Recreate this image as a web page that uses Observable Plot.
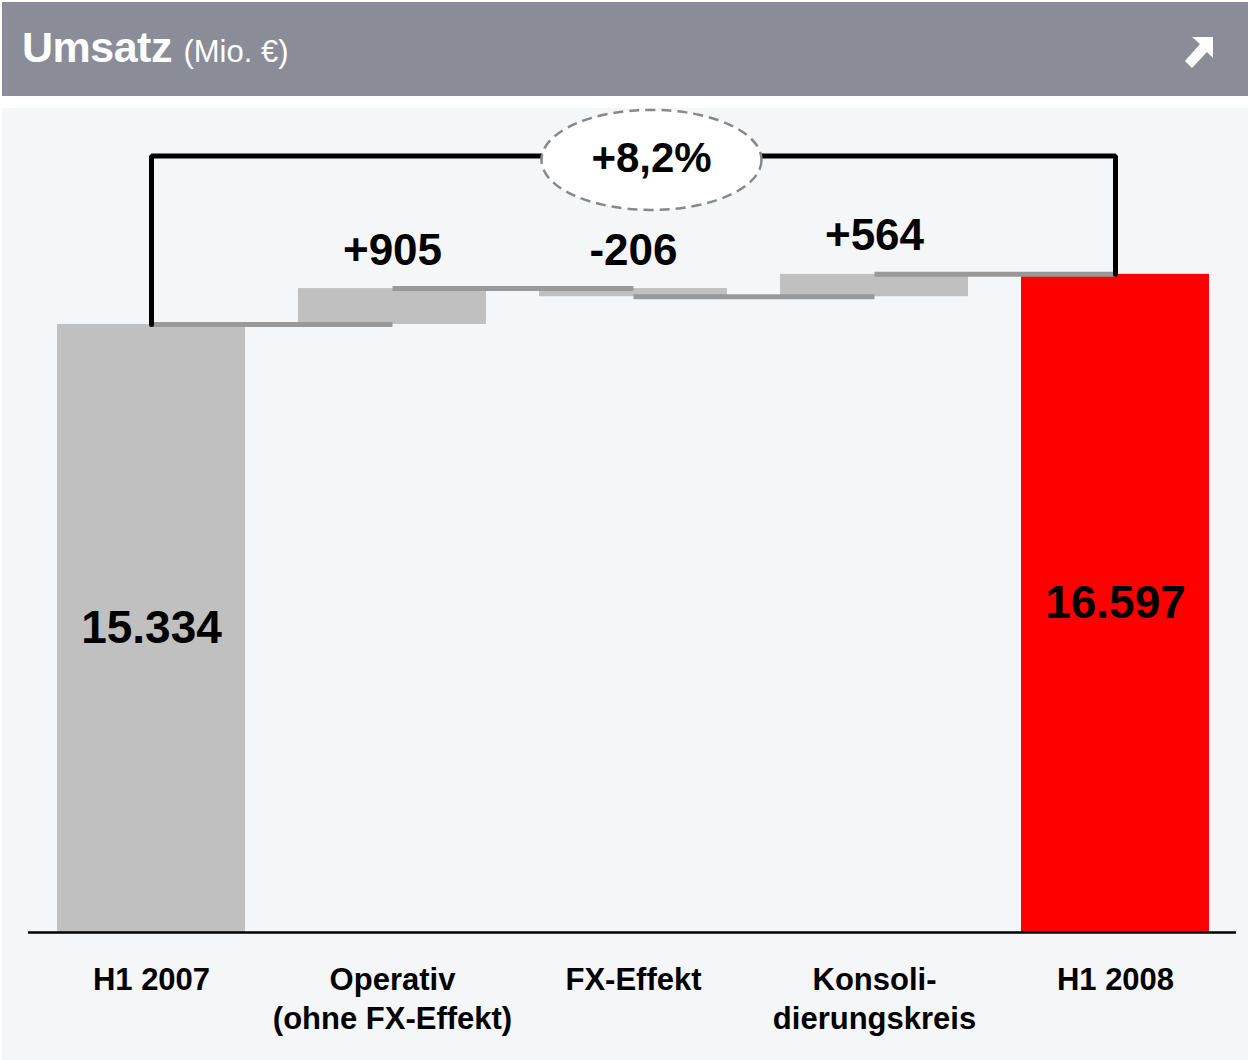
<!DOCTYPE html>
<html>
<head>
<meta charset="utf-8">
<script src="https://cdn.jsdelivr.net/npm/d3@7"></script>
<script src="https://cdn.jsdelivr.net/npm/@observablehq/plot@0.6"></script>
<style>
  body { margin: 0; background: #fff; font-family: "Liberation Sans", Arial, sans-serif; }
  #wrap { width: 1248px; height: 1060px; position: relative; overflow: hidden; }
  #header { position: absolute; left: 2px; top: 2px; width: 1246px; height: 94px; background: #8a8d97; color: #fff; display: flex; align-items: center; }
  #title { margin-left: 20px; margin-top: -4px; font-weight: bold; font-size: 43px; letter-spacing: -0.5px; }
  #title span { font-weight: normal; font-size: 31px; letter-spacing: 0; }
  #arrow { position: absolute; left: 1176px; top: 30px; }
  #panel { position: absolute; left: 2px; top: 108px; width: 1246px; height: 952px; background: #f5f6f8; }
</style>
</head>
<body>
<div id="wrap">
  <div id="header">
    <div id="title">Umsatz <span>(Mio. €)</span></div>
    <svg id="arrow" width="40" height="40" viewBox="0 0 40 40">
      <polygon points="14,5 35,5 35,26 29,20 14,36 7,29 22,12" fill="#fff"/>
    </svg>
  </div>
  <div id="panel"></div>
</div>
<script>
// ---- data ----
const categories = ["H1 2007", "Operativ\n(ohne FX-Effekt)", "FX-Effekt", "Konsoli-\ndierungskreis", "H1 2008"];
const values = [15334, 905, -206, 564, 16597];
const valueLabels = ["15.334", "+905", "-206", "+564", "16.597"];
const kinds = ["total", "delta", "delta", "delta", "final"];
const growthLabel = "+8,2%";

// ---- derived table ----
let run = 0;
const rows = categories.map((cat, i) => {
  let start, end;
  if (kinds[i] === "delta") { start = run; end = run + values[i]; }
  else { start = 0; end = values[i]; }
  run = end;
  return { cat, start, end, kind: kinds[i], label: valueLabels[i],
           top: Math.max(start, end), mid: (start + end) / 2 };
});
const links = rows.slice(0, -1).map((r, i) => ({ x1: r.cat, x2: rows[i + 1].cat, y: r.end }));
const maxTotal = d3.max(rows.filter(r => r.kind !== "delta"), r => r.end);
const bracketLevel = maxTotal * 1.18;
const first = rows[0], last = rows[rows.length - 1];
const bracket = [
  { x: first.cat, y: first.end },
  { x: first.cat, y: bracketLevel },
  { x: last.cat, y: bracketLevel },
  { x: last.cat, y: last.end }
];

const ellipse = {
  draw(ctx) {
    const rx = 110, ry = 50, k = 0.5523;
    ctx.moveTo(rx, 0);
    ctx.bezierCurveTo(rx, ry * k, rx * k, ry, 0, ry);
    ctx.bezierCurveTo(-rx * k, ry, -rx, ry * k, -rx, 0);
    ctx.bezierCurveTo(-rx, -ry * k, -rx * k, -ry, 0, -ry);
    ctx.bezierCurveTo(rx * k, -ry, rx, -ry * k, rx, 0);
    ctx.closePath();
  }
};

const font = "'Liberation Sans', Arial, sans-serif";

const chart = Plot.plot({
  width: 1246,
  height: 952,
  marginTop: 0,
  marginBottom: 128,
  marginLeft: 26,
  marginRight: 12,
  style: { background: "transparent", fontFamily: font, color: "black" },
  x: { domain: categories, range: [54, 1207], paddingInner: 0.22, paddingOuter: 0, axis: null },
  y: { domain: [0, 20780], axis: null },
  color: { type: "identity" },
  marks: [
    Plot.barY(rows, { x: "cat", y1: "start", y2: "end",
      fill: d => d.kind === "final" ? "#ff0000" : "#c0c0c0" }),
    Plot.link(links, { x1: "x1", x2: "x2", y1: "y", y2: "y", stroke: "#999999", strokeWidth: 5 }),
    Plot.line(bracket, { x: "x", y: "y", stroke: "black", strokeWidth: 5, strokeLinejoin: "miter" }),
    Plot.dot([{ x: categories[2], y: bracketLevel }], { x: "x", y: "y", dx: 18, dy: 4, symbol: ellipse,
      fill: "white", stroke: "#888", strokeWidth: 2.5, strokeDasharray: "10,6" }),
    Plot.text([{ x: categories[2], y: bracketLevel, t: growthLabel }], { x: "x", y: "y", text: "t", dx: 18, dy: 3,
      fontSize: 42, fontWeight: "bold", fill: "black", lineAnchor: "middle" }),
    Plot.text(rows.filter(r => r.kind === "delta"), { x: "cat", y: "top", text: "label", dy: -38,
      fontSize: 44, fontWeight: "bold", fill: "black", lineAnchor: "middle" }),
    Plot.text(rows.filter(r => r.kind !== "delta"), { x: "cat", y: "mid", text: "label",
      fontSize: 46, fontWeight: "bold", fill: "black", lineAnchor: "middle" }),
    Plot.ruleY([0], { stroke: "black", strokeWidth: 2.5 }),
    Plot.axisX({ tickSize: 0, tickPadding: 30, fontSize: 31, fontWeight: "bold", lineHeight: 1.25, fill: "black" })
  ]
});
document.getElementById("panel").appendChild(chart);
</script>
</body>
</html>
